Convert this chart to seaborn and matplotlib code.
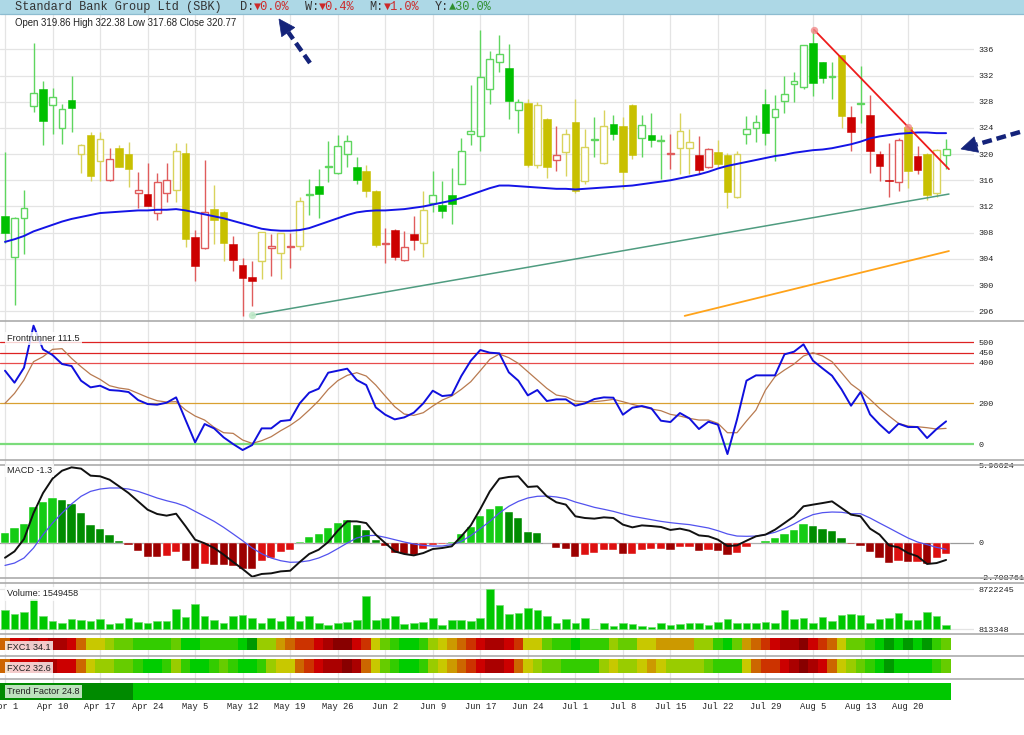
import numpy as np
import pandas as pd
import seaborn as sns
import matplotlib
matplotlib.use("Agg")
import matplotlib.pyplot as plt
from matplotlib.colors import ListedColormap
from matplotlib.patches import Rectangle, Polygon
from matplotlib.lines import Line2D

# ---------------- data ----------------
date_labels = ["Apr 1", "Apr 10", "Apr 17", "Apr 24", "May 5", "May 12", "May 19",
               "May 26", "Jun 2", "Jun 9", "Jun 17", "Jun 24", "Jul 1", "Jul 8",
               "Jul 15", "Jul 22", "Jul 29", "Aug 5", "Aug 13", "Aug 20"]
date_idx = [0, 5, 10, 15, 20, 25, 30, 35, 40, 45, 50, 55, 60, 65, 70, 75, 80, 85, 90, 95]

price_open = [310.5, 304.3, 310.2, 327.3, 330.0, 327.5, 324.0, 328.2, 320.0, 322.9,
              318.9, 316.0, 321.0, 320.0, 314.0, 313.9, 311.0, 314.1, 314.5, 320.1,
              307.4, 305.6, 311.6, 311.2, 306.2, 303.1, 301.3, 303.7, 305.7, 304.9,
              305.8, 305.9, 313.7, 315.1, 318.1, 317.1, 320.0, 318.1, 317.4, 314.3,
              306.2, 308.4, 303.9, 307.8, 306.5, 312.5, 312.3, 313.8, 315.5, 323.1,
              322.7, 330.0, 334.0, 333.1, 326.8, 327.8, 318.3, 325.4, 319.1, 320.3,
              324.9, 315.9, 322.2, 318.6, 324.6, 324.3, 327.5, 322.4, 322.9, 322.0,
              320.0, 321.0, 321.0, 319.9, 318.0, 320.3, 319.8, 313.4, 323.1, 324.0,
              327.7, 325.7, 328.1, 330.7, 330.2, 337.0, 334.0, 331.7, 335.1, 325.7,
              327.6, 325.9, 320.0, 316.0, 315.7, 324.1, 319.7, 320.0, 314.0, 319.86]
price_high = [320.3, 310.4, 314.5, 336.9, 331.1, 330.1, 327.7, 331.9, 321.6, 323.3,
              323.4, 320.9, 321.4, 321.9, 317.2, 318.6, 317.1, 318.6, 321.7, 321.7,
              308.4, 319.1, 315.3, 311.3, 307.5, 304.1, 303.7, 308.1, 307.8, 308.0,
              307.9, 313.5, 316.2, 317.7, 322.0, 322.9, 322.9, 319.6, 318.3, 314.5,
              308.7, 308.5, 308.3, 310.5, 314.3, 317.4, 315.9, 317.9, 322.5, 330.5,
              339.0, 335.8, 338.2, 336.8, 328.4, 328.4, 327.9, 325.5, 324.3, 323.9,
              328.4, 323.9, 325.6, 326.7, 325.9, 325.6, 327.6, 325.9, 326.2, 322.9,
              323.0, 326.2, 323.8, 322.8, 320.9, 322.2, 320.2, 320.4, 325.8, 326.0,
              330.0, 329.0, 331.9, 332.6, 336.7, 338.9, 334.1, 334.0, 335.2, 327.3,
              333.5, 329.0, 320.5, 321.7, 322.5, 324.3, 321.2, 320.1, 320.8, 322.38]
price_low = [306.5, 297.0, 304.8, 326.4, 321.4, 323.0, 321.6, 323.4, 317.1, 315.9,
             315.9, 315.9, 318.0, 315.0, 311.8, 312.0, 310.0, 312.7, 312.7, 305.8,
             300.7, 305.5, 306.2, 303.7, 302.2, 295.3, 296.8, 301.0, 301.4, 300.9,
             302.6, 305.4, 310.7, 310.2, 315.7, 317.0, 318.0, 315.5, 313.5, 305.8,
             303.4, 303.8, 303.7, 305.4, 304.3, 311.2, 310.3, 309.3, 315.4, 321.4,
             320.5, 327.7, 332.6, 325.4, 323.2, 318.1, 317.9, 316.4, 317.4, 316.7,
             314.0, 315.5, 319.6, 318.5, 322.1, 314.7, 319.2, 319.6, 321.1, 316.2,
             317.7, 316.9, 317.0, 316.9, 317.9, 318.0, 311.8, 313.3, 321.5, 321.9,
             321.4, 318.9, 326.3, 327.9, 329.9, 328.8, 330.8, 328.4, 324.0, 320.5,
             324.7, 317.1, 315.9, 313.5, 314.4, 314.9, 317.0, 313.0, 313.4, 317.68]
price_close = [307.9, 310.2, 311.7, 329.4, 325.0, 328.7, 326.9, 327.1, 321.4, 316.6,
               322.3, 319.2, 318.0, 317.7, 314.5, 312.1, 315.7, 316.0, 320.4, 307.0,
               302.9, 311.2, 309.9, 306.5, 303.8, 301.1, 300.6, 308.1, 305.9, 307.9,
               305.9, 312.8, 313.8, 313.9, 318.2, 321.2, 322.0, 316.0, 314.3, 306.1,
               306.5, 304.3, 305.8, 306.9, 311.5, 313.8, 311.3, 312.4, 320.5, 323.5,
               331.7, 334.5, 335.3, 328.1, 327.9, 318.3, 327.5, 318.0, 319.8, 323.0,
               314.3, 321.1, 322.3, 324.3, 323.1, 317.2, 319.9, 324.4, 322.2, 322.1,
               320.1, 323.5, 321.9, 317.6, 320.8, 318.5, 314.2, 320.0, 323.9, 324.9,
               323.2, 326.9, 329.2, 331.1, 336.6, 330.8, 331.6, 331.8, 325.8, 323.3,
               327.7, 320.5, 318.2, 315.9, 322.1, 317.4, 317.6, 313.8, 320.7, 320.77]
candle_tone = list("GGGGGGGGYY" "YRYYRRRRYY" "RRYYRRRYRY" "RYGGGGGGYY" "RRRRYGGGGG"
                   "GGGGGYYYRY" "YYGYGYYGGG" "RYYRRYYYGG" "GGGGGGGGYR" "GRRRRYRYYG")
moving_avg = [306.6, 307.0, 307.5, 308.2, 308.7, 309.2, 309.7, 310.1, 310.4, 310.7,
              311.0, 311.1, 311.2, 311.3, 311.4, 311.4, 311.5, 311.5, 311.6, 311.4,
              311.1, 310.8, 310.5, 310.2, 309.8, 309.4, 309.0, 308.6, 308.4, 308.3,
              308.3, 308.4, 308.7, 309.2, 309.7, 310.2, 310.7, 311.1, 311.3, 311.4,
              311.4, 311.5, 311.6, 311.8, 312.0, 312.3, 312.6, 312.9, 313.3, 313.8,
              314.3, 314.8, 315.2, 315.2, 315.1, 315.0, 314.9, 314.8, 314.7, 314.7,
              314.6, 314.7, 314.8, 314.9, 315.0, 315.1, 315.2, 315.4, 315.6, 315.8,
              316.0, 316.3, 316.6, 316.9, 317.3, 317.8, 318.2, 318.5, 318.8, 319.1,
              319.4, 319.7, 319.9, 320.2, 320.4, 320.6, 320.7, 320.9, 321.2, 321.5,
              321.9, 322.4, 322.7, 322.9, 323.1, 323.2, 323.3, 323.3, 323.2, 323.2]
support_x, support_y = [26, 99.3], [295.4, 313.9]
channel_x, channel_y = [71.5, 99.3], [295.3, 305.2]
resist_x, resist_y = [85.1, 99.3], [339.0, 317.7]
resist_anchor_x, resist_anchor_y = [85.1, 95], [339.0, 324.1]

frontrunner = [360.7, 301.6, 375.4, 582.0, 465.6, 437.7, 393.4, 383.6, 311.5, 278.7,
               286.9, 265.6, 262.3, 255.7, 216.4, 196.7, 193.4, 203.3, 229.5, 118.0,
               8.2, 98.4, 77.0, 32.8, 0.0, -29.5, -4.9, 77.0, 77.0, 113.0,
               118.0, 200.0, 252.5, 272.0, 350.8, 360.7, 370.5, 314.8, 290.2, 180.3,
               144.3, 121.3, 131.1, 154.1, 200.0, 262.3, 236.0, 241.0, 334.4, 409.8,
               462.3, 449.2, 445.9, 352.5, 311.5, 239.3, 265.6, 211.5, 219.7, 219.7,
               188.5, 200.0, 221.3, 229.5, 227.9, 144.3, 178.7, 186.9, 175.4, 114.8,
               108.2, 152.5, 126.2, 73.8, 109.8, 95.1, -49.2, 120.0, 311.5, 337.7,
               337.7, 337.7, 441.0, 454.0, 490.2, 409.8, 372.1, 336.1, 268.9, 188.5,
               255.7, 145.9, 96.7, 54.1, 100.0, 83.6, 83.6, 29.5, 73.8, 111.5]
frontrunner_sig = [200.0, 249.0, 314.8, 405.0, 429.5, 465.6, 468.9, 421.3, 380.3, 342.6,
                   318.0, 286.9, 275.4, 268.9, 249.2, 229.5, 213.1, 206.6, 208.2, 167.2,
                   137.7, 118.0, 82.0, 55.7, 52.5, 19.7, 3.3, 16.4, 36.0, 65.6,
                   91.8, 124.6, 167.2, 213.1, 268.9, 311.5, 337.7, 350.8, 334.4, 290.2,
                   236.0, 183.6, 147.5, 141.0, 154.1, 186.9, 216.4, 236.0, 268.9, 306.6,
                   360.7, 416.4, 442.6, 424.6, 396.7, 355.7, 314.8, 273.8, 241.0, 232.8,
                   211.5, 208.2, 208.2, 213.1, 219.7, 208.2, 195.1, 183.6, 172.1, 163.9,
                   145.9, 137.7, 126.2, 118.0, 118.0, 101.6, 55.7, 55.7, 113.1, 167.2,
                   265.6, 331.1, 363.9, 393.4, 432.8, 449.2, 432.8, 404.9, 350.8, 295.1,
                   260.7, 219.7, 175.4, 137.7, 101.6, 88.5, 85.2, 80.3, 73.8, 77.0]
fr_levels = [500, 450, 400, 200, 0]

macd = [-1.16, -0.67, 0.28, 2.28, 3.82, 4.93, 5.54, 5.80, 5.70, 5.16,
        5.11, 4.85, 4.34, 3.82, 3.18, 2.54, 2.21, 2.08, 2.23, 1.26,
        0.23, -0.05, -0.41, -0.92, -1.49, -2.03, -2.62, -2.41, -2.36, -2.21,
        -2.16, -1.49, -0.87, -0.54, 0.05, 0.92, 1.64, 1.64, 1.51, 0.62,
        -0.03, -0.67, -0.87, -0.98, -0.80, -0.49, -0.41, -0.28, 0.49, 1.33,
        2.59, 3.95, 4.93, 5.06, 5.11, 4.29, 4.34, 3.57, 3.11, 2.93,
        2.03, 1.90, 1.85, 1.95, 1.90, 1.39, 1.18, 1.33, 1.28, 1.21,
        0.98, 1.08, 0.92, 0.56, 0.49, 0.23, -0.26, -0.21, 0.15, 0.49,
        0.62, 1.00, 1.51, 2.03, 2.80, 2.93, 3.05, 3.18, 2.67, 2.16,
        2.03, 1.08, 0.62, -0.21, -0.36, -0.80, -1.05, -1.64, -1.57, -1.33]
macd_sig = [-1.75, -1.57, -1.18, -0.41, 0.62, 1.51, 2.28, 2.98, 3.57, 3.95,
            4.13, 4.21, 4.21, 4.13, 3.95, 3.70, 3.44, 3.23, 3.05, 2.80,
            2.41, 2.03, 1.64, 1.18, 0.67, 0.15, -0.41, -0.85, -1.18, -1.39,
            -1.51, -1.49, -1.39, -1.18, -0.87, -0.46, -0.03, 0.36, 0.54, 0.56,
            0.41, 0.23, 0.05, -0.10, -0.21, -0.26, -0.26, -0.15, 0.10, 0.54,
            1.08, 1.64, 2.28, 2.80, 3.18, 3.44, 3.57, 3.59, 3.52, 3.39,
            3.13, 2.93, 2.72, 2.57, 2.41, 2.21, 2.03, 1.90, 1.77, 1.64,
            1.54, 1.46, 1.39, 1.26, 1.13, 0.92, 0.67, 0.51, 0.49, 0.51,
            0.62, 0.80, 1.08, 1.44, 1.85, 2.16, 2.31, 2.36, 2.34, 2.23,
            2.23, 1.90, 1.51, 1.13, 0.74, 0.36, 0.05, -0.15, -0.36, -0.51]
macd_hist = [0.74, 1.13, 1.46, 2.75, 3.11, 3.44, 3.31, 3.00, 2.28, 1.39,
             1.08, 0.62, 0.13, -0.21, -0.67, -1.10, -1.13, -1.00, -0.74, -1.44,
             -2.03, -1.65, -1.70, -1.75, -1.82, -2.00, -2.03, -1.44, -1.18, -0.74,
             -0.59, 0.03, 0.41, 0.67, 1.13, 1.51, 1.77, 1.39, 1.00, 0.18,
             -0.28, -0.80, -0.87, -0.92, -0.49, -0.15, -0.10, 0.02, 0.69, 1.18,
             2.03, 2.59, 2.80, 2.36, 1.90, 0.82, 0.72, -0.05, -0.44, -0.49,
             -1.08, -0.98, -0.80, -0.56, -0.54, -0.87, -0.87, -0.54, -0.49, -0.49,
             -0.54, -0.36, -0.36, -0.67, -0.54, -0.67, -0.98, -0.77, -0.33, 0.0,
             0.13, 0.39, 0.69, 0.95, 1.44, 1.26, 1.08, 0.92, 0.36, -0.13,
             -0.26, -0.74, -1.18, -1.59, -1.39, -1.49, -1.49, -1.62, -1.18, -0.85]
macd_ticks = [5.96624, 0, -2.708761]

volume = [4600000, 3800000, 4140000, 6730000, 3410000, 2340000, 2080000, 2740000, 2610000, 2470000,
          2740000, 1810000, 2080000, 2940000, 2210000, 2080000, 2340000, 2470000, 4800000, 3210000,
          5800000, 3410000, 2610000, 2080000, 3410000, 3600000, 2940000, 1940000, 2940000, 2340000,
          3410000, 2470000, 3410000, 2080000, 1540000, 2080000, 2210000, 2540000, 7330000, 2540000,
          2940000, 3410000, 1810000, 1940000, 2210000, 2940000, 1680000, 2610000, 2610000, 2410000,
          3070000, 8722245, 5600000, 3800000, 3940000, 4930000, 4670000, 3410000, 1940000, 2740000,
          1940000, 3070000, 0, 2080000, 1350000, 2080000, 1810000, 1480000, 1150000, 1940000,
          1610000, 1810000, 1940000, 1940000, 1610000, 2210000, 2740000, 1940000, 1940000, 2080000,
          2210000, 1940000, 4670000, 2740000, 2940000, 2080000, 3210000, 2340000, 3670000, 3800000,
          3670000, 2080000, 2740000, 3070000, 3940000, 2610000, 2610000, 4200000, 3340000, 1549458]
vol_ticks = [813348, 8722245]

# heat strips: 0 = deepest red ... 11 = deep green
fxc1 = [4, 2, 2, 1, 2, 1, 1, 2, 4, 6, 6, 7, 8, 8, 9, 9, 9, 9, 8, 10,
        10, 9, 9, 9, 9, 10, 11, 7, 7, 5, 4, 3, 3, 2, 1, 0, 0, 2, 3, 6,
        8, 9, 10, 10, 9, 7, 6, 5, 4, 3, 2, 1, 1, 2, 3, 6, 6, 8, 9, 9,
        10, 9, 9, 9, 7, 8, 8, 6, 6, 5, 5, 5, 5, 7, 7, 9, 10, 8, 5, 4,
        3, 2, 1, 1, 0, 2, 3, 4, 6, 8, 8, 9, 10, 11, 10, 11, 10, 11, 9, 8]
fxc2 = [4, 2, 2, 2, 1, 1, 2, 2, 4, 6, 7, 7, 8, 8, 9, 10, 10, 9, 7, 9,
        10, 10, 9, 8, 9, 10, 10, 9, 7, 6, 6, 4, 3, 2, 1, 1, 0, 1, 4, 6,
        8, 9, 10, 10, 9, 7, 6, 5, 4, 3, 2, 1, 1, 2, 4, 6, 7, 8, 8, 9,
        9, 9, 9, 7, 6, 7, 7, 6, 5, 6, 7, 7, 7, 7, 8, 9, 9, 9, 6, 4,
        3, 3, 2, 1, 0, 1, 2, 4, 6, 7, 8, 9, 10, 11, 10, 10, 10, 10, 9, 8]
trend_factor = [0, 0, 0, 0, 0, 0, 0, 0, 0, 0, 0, 0, 0, 0, 1, 1, 1, 1, 1, 1,
                1, 1, 1, 1, 1, 1, 1, 1, 1, 1, 1, 1, 1, 1, 1, 1, 1, 1, 1, 1,
                1, 1, 1, 1, 1, 1, 1, 1, 1, 1, 1, 1, 1, 1, 1, 1, 1, 1, 1, 1,
                1, 1, 1, 1, 1, 1, 1, 1, 1, 1, 1, 1, 1, 1, 1, 1, 1, 1, 1, 1,
                1, 1, 1, 1, 1, 1, 1, 1, 1, 1, 1, 1, 1, 1, 1, 1, 1, 1, 1, 1]

# ---------------- style ----------------
sns.set_style("white")
plt.rcParams["font.family"] = ["Liberation Sans", "DejaVu Sans"]
MONO = ["Liberation Mono", "DejaVu Sans Mono"]
TXT = "#333333"

W, H = 1024, 735
PLOT_R = 974          # right edge of plotting area (px)
STEP = 9.506          # px per trading day
X0 = 5                # px of first candle
XLIM = (-X0 / STEP, (PLOT_R - X0) / STEP)

df = pd.DataFrame({"i": np.arange(len(price_close)), "o": price_open, "h": price_high,
                   "l": price_low, "c": price_close, "tone": candle_tone, "ma": moving_avg,
                   "fr": frontrunner, "frs": frontrunner_sig, "macd": macd,
                   "sig": macd_sig, "hist": macd_hist, "vol": volume})

fig = plt.figure(figsize=(W / 100, H / 100), dpi=100)


def fx(x):
    return x / W


def fy(y):
    return 1 - y / H


def panel(top, bottom):
    ax = fig.add_axes([0, fy(bottom), fx(PLOT_R), (bottom - top) / H])
    ax.set_facecolor("none")
    for s in ax.spines.values():
        s.set_visible(False)
    return ax


def right_ticks(ax, ticks, labels):
    ax.yaxis.tick_right()
    ax.set_yticks(ticks)
    ax.set_yticklabels(labels, family=MONO, fontsize=6.1, color="#222222")
    ax.tick_params(axis="y", length=0, pad=3.5)
    ax.set_xticks([])
    ax.set_xlabel("")
    ax.set_ylabel("")


def tag(y, text, fc="white"):
    fig.text(fx(7), fy(y), text, ha="left", va="center", fontsize=6.6, color="#222222",
             bbox=dict(boxstyle="square,pad=0.25", fc=fc, ec="none", alpha=0.8))


def dashed_arrow(tail, tip, color, head_len=16, head_half=8):
    tail, tip = np.array(tail, float), np.array(tip, float)
    u = (tip - tail) / np.hypot(*(tip - tail))
    n = np.array([-u[1], u[0]])
    base = tip - u * head_len
    fig.add_artist(Line2D([fx(tail[0]), fx(base[0])], [fy(tail[1]), fy(base[1])],
                          transform=fig.transFigure, color=color, lw=3.2,
                          dashes=(2.2, 1.1), solid_capstyle="butt", dash_capstyle="butt"))
    pts = [tip, base + n * head_half, base - n * head_half]
    fig.add_artist(Polygon([(fx(p[0]), fy(p[1])) for p in pts], closed=True,
                           transform=fig.transFigure, facecolor=color, edgecolor=color, lw=0.5))


# background vertical grid shared by all panels
bg = fig.add_axes([0, fy(700), fx(PLOT_R), (700 - 14) / H])
bg.set_xlim(XLIM)
bg.axis("off")
for d in date_idx:
    bg.axvline(d, color="#e4e4e4", lw=0.9)

# ---------------- price panel ----------------
ax_p = panel(14, 320)
for v in range(296, 337, 4):
    ax_p.axhline(v, color="#e4e4e4", lw=0.9, zorder=0)

tone_col = {"G": ("#00c000", "#5fd65f"), "Y": ("#c8c000", "#d9d35c"), "R": ("#cc0000", "#e05c5c")}
for r in df.itertuples():
    fill, light = tone_col[r.tone]
    ax_p.vlines(r.i, r.l, r.h, color=light, lw=1.0, zorder=2)
    lo, hi = min(r.o, r.c), max(r.o, r.c)
    hgt = max(hi - lo, 0.15)
    if r.c >= r.o:
        ax_p.bar(r.i, hgt, bottom=lo, width=0.72, facecolor="white", edgecolor=light,
                 linewidth=1.0, zorder=3)
    else:
        ax_p.bar(r.i, hgt, bottom=lo, width=0.8, color=fill, edgecolor=fill,
                 linewidth=0.4, zorder=3)

sns.lineplot(data=df, x="i", y="ma", ax=ax_p, color="#1414e6", linewidth=1.4, zorder=4)
ax_p.plot(support_x, support_y, color="#4f9c80", lw=1.1, zorder=4)
ax_p.plot(channel_x, channel_y, color="#ffa31a", lw=1.3, zorder=4)
ax_p.plot(resist_x, resist_y, color="#ee1c1c", lw=1.3, zorder=5)
ax_p.scatter([support_x[0]], [support_y[0]], s=28, color="#bfe8c8", alpha=0.9, zorder=5, lw=0)
ax_p.scatter(resist_anchor_x, resist_anchor_y, s=28, color="#f08a8a", alpha=0.8, zorder=5, lw=0)
ax_p.set_xlim(XLIM)
ax_p.set_ylim(294.67, 341.39)
right_ticks(ax_p, list(range(296, 337, 4)), [str(v) for v in range(296, 337, 4)])

# ---------------- Frontrunner panel ----------------
ax_f = panel(321, 459.5)
for lvl, col, lw in zip(fr_levels, ["#dd2222", "#dd2222", "#e84c4c", "#d9a031", "#7bdc7b"],
                        [0.9, 0.9, 0.9, 0.9, 1.6]):
    ax_f.axhline(lvl, color=col, lw=lw, zorder=1)
sns.lineplot(data=df, x="i", y="frs", ax=ax_f, color="#b87a50", linewidth=0.9, zorder=3)
sns.lineplot(data=df, x="i", y="fr", ax=ax_f, color="#1010dd", linewidth=1.4, zorder=4)
ax_f.set_xlim(XLIM)
ax_f.set_ylim(-76, 605)
right_ticks(ax_f, fr_levels, [str(v) for v in fr_levels])

# ---------------- MACD panel ----------------
ax_m = panel(465, 578)
ax_m.axhline(0, color="#9a9a9a", lw=0.9, zorder=1)
prev = np.r_[df["hist"].iloc[0], df["hist"].values[:-1]]
hist_cols = [("#14cc14" if h >= p else "#008c00") if h >= 0 else ("#dd1010" if h >= p else "#9c0000")
             for h, p in zip(df["hist"], prev)]
ax_m.bar(df["i"], df["hist"], width=0.86, color=hist_cols, edgecolor="#ffffff", linewidth=0.3, zorder=2)
sns.lineplot(data=df, x="i", y="sig", ax=ax_m, color="#5252ee", linewidth=0.9, zorder=3)
sns.lineplot(data=df, x="i", y="macd", ax=ax_m, color="#111111", linewidth=1.4, zorder=4)
ax_m.set_xlim(XLIM)
ax_m.set_ylim(-2.72, 5.98)
right_ticks(ax_m, macd_ticks, ["5.96624", "0", "-2.708761"])

# ---------------- Volume panel ----------------
ax_v = panel(583, 633.5)
for v in vol_ticks:
    ax_v.axhline(v, color="#e4e4e4", lw=0.9, zorder=0)
ax_v.bar(df["i"], np.clip(df["vol"] - vol_ticks[0], 0, None), bottom=vol_ticks[0], width=0.8,
         color="#00c800", edgecolor="#72dc72", linewidth=0.5, zorder=2)
ax_v.set_xlim(XLIM)
ax_v.set_ylim(-83875, 9985000)
right_ticks(ax_v, vol_ticks, [str(v) for v in vol_ticks])

# ---------------- heat strips ----------------
heat_cmap = ListedColormap(["#880000", "#aa0000", "#cc0000", "#cc3300", "#cc6600", "#cc9900",
                            "#c8c800", "#99cc00", "#66cc00", "#33cc00", "#00cc00", "#009900"])
trend_cmap = ListedColormap(["#008a00", "#00c800"])
strips = []
for top, bottom, vals, cmap, vmax in [(638.3, 650, fxc1, heat_cmap, 11),
                                      (659.3, 672.7, fxc2, heat_cmap, 11),
                                      (682.7, 699.5, trend_factor, trend_cmap, 1)]:
    ax_s = panel(top, bottom)
    sns.heatmap(np.array([vals]), ax=ax_s, cmap=cmap, vmin=-0.5, vmax=vmax + 0.5, cbar=False,
                xticklabels=False, yticklabels=False, linewidths=0)
    ax_s.set_xlim(XLIM[0] + 0.5, XLIM[1] + 0.5)
    strips.append(ax_s)

ax_t = strips[-1]
ax_t.set_xticks([d + 0.5 for d in date_idx])
ax_t.set_xticklabels(date_labels, family=MONO, fontsize=6.3, color="#222222")
ax_t.tick_params(axis="x", length=0, pad=2, bottom=True, labelbottom=True)

# ---------------- frame lines ----------------
for y in [320.5, 459.5, 464.5, 578, 583, 633.5, 655.5, 678.5]:
    fig.add_artist(Line2D([0, 1], [fy(y)] * 2, transform=fig.transFigure, color="#ababab", lw=1.2))

# ---------------- header ----------------
fig.add_artist(Rectangle((0, fy(13.5)), 1, 13.5 / H, transform=fig.transFigure,
                         facecolor="#add8e6", edgecolor="none"))
fig.add_artist(Line2D([0, 1], [fy(13.8)] * 2, transform=fig.transFigure, color="#8dbcd0", lw=0.9))
hdr = dict(fontsize=8.6, family=MONO, va="center", ha="left")
fig.text(fx(15), fy(6.8), "Standard Bank Group Ltd (SBK)", color=TXT, **hdr)
for x, key, val, col in [(240, "D:", "\u25bc0.0%", "#cc2a2a"), (305, "W:", "\u25bc0.4%", "#cc2a2a"),
                         (369.3, "M:", "\u25bc1.0%", "#cc2a2a"), (435, "Y:", "\u25b230.0%", "#2f8f2f")]:
    fig.text(fx(x), fy(6.8), key, color=TXT, **hdr)
    fig.text(fx(x + 14.3), fy(6.8), val, color=col, **hdr)

fig.text(fx(15), fy(22.5), "Open 319.86 High 322.38 Low 317.68 Close 320.77",
         ha="left", va="center", fontsize=6.9, color="#222222")

tag(338.3, "Frontrunner 111.5")
tag(470.7, "MACD -1.3")
tag(594, "Volume: 1549458")
tag(647.7, "FXC1 34.1")
tag(668.3, "FXC2 32.6")
tag(691.5, "Trend Factor 24.8", fc="#eef9ee")

# ---------------- arrows ----------------
navy = "#14237a"
dashed_arrow((310, 63), (279, 19), navy)
dashed_arrow((1020, 132), (961, 149), navy)

fig.savefig("out.png", dpi=100)
